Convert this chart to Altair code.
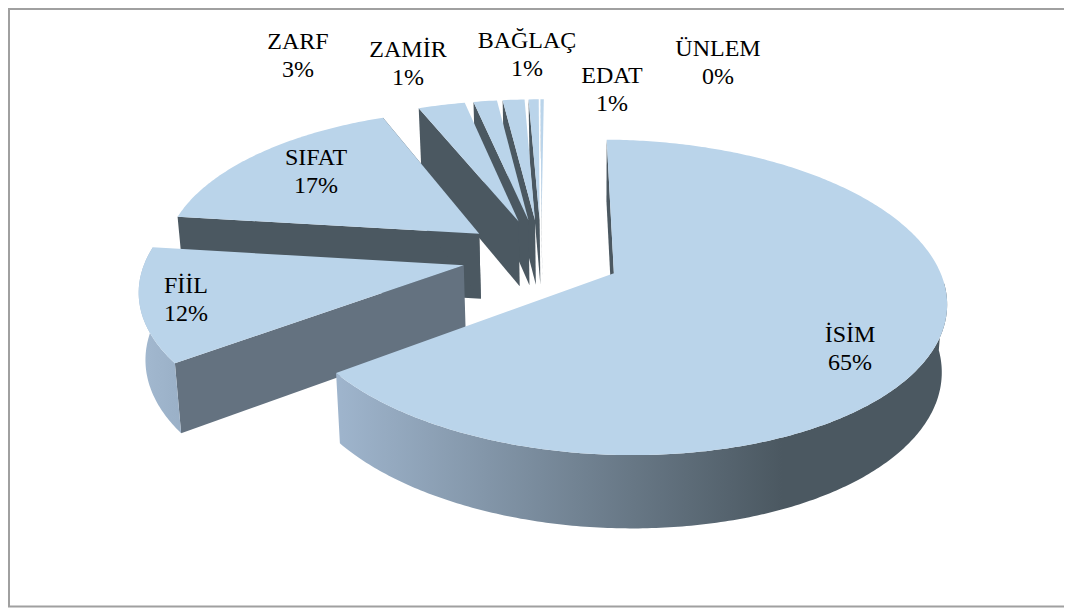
import altair as alt
import numpy as np
import pandas as pd

categories = ["İSİM", "FİİL", "SIFAT", "ZARF", "ZAMİR", "BAĞLAÇ", "EDAT", "ÜNLEM"]
shares = [64.5, 12.0, 17.0, 2.8, 1.4, 1.3, 0.6, 0.2]
pct_labels = ["65%", "12%", "17%", "3%", "1%", "1%", "1%", "0%"]

label_x = [850, 186, 316, 298, 408, 527, 612, 718]
label_y = [335, 286, 158, 42, 50, 41, 76, 49]

W, H = 1056, 600
EXPLODE = 0.25
VIEW = [321.0, -85.16, 613.9, 0.92808, 112.43, 273.32, -0.0073629, -0.15224]
VX, ALPHA = 590, 0.015

cum = np.concatenate([[0], np.cumsum(shares)]) / sum(shares) * 360
bis = (cum[:-1] + cum[1:]) / 2


def pol(t):
    r = np.radians(t)
    return np.sin(r), -np.cos(r)


dirs = [pol(b) for b in bis]
C = (-EXPLODE * dirs[0][0], -EXPLODE * dirs[0][1])


def apex(i):
    return C[0] + EXPLODE * dirs[i][0], C[1] + EXPLODE * dirs[i][1]


def plane(i, t):
    a = apex(i)
    p = pol(t)
    return a[0] + p[0], a[1] + p[1]


def proj(p):
    X, Y = p
    h = VIEW
    w = h[6] * X + h[7] * Y + 1
    return (h[0] * X + h[1] * Y + h[2]) / w, (h[3] * X + h[4] * Y + h[5]) / w


def bottom(p):
    x, y = proj(p)
    return x + (VX - x) * ALPHA, y + 65 + 0.037 * (y - 230)


x_scale = alt.Scale(domain=[8, 8 + W], range=[0, W], nice=False, zero=False)
y_scale = alt.Scale(domain=[8, 8 + H], range=[0, H], nice=False, zero=False)
X_ = alt.X("x:Q", scale=x_scale, axis=None)
Y_ = alt.Y("y:Q", scale=y_scale, axis=None)


def poly(pts, fill):
    df = pd.DataFrame(pts, columns=["x", "y"])
    df["o"] = range(len(df))
    return alt.Chart(df).mark_line(fill=fill, stroke="#00000000", strokeWidth=0).encode(
        x=X_, y=Y_, order="o:Q")


def grad(stops):
    return alt.Gradient(gradient="linear", x1=0, x2=1, y1=0, y2=0,
                        stops=[alt.GradientStop(offset=o, color=c) for o, c in stops])


FACE = "#bad4ea"
DARK = "#4b5861"
layers = []

# the frame
frame = pd.DataFrame({"x": [9, 9], "y": [9, 606]})
layers.append(alt.Chart(frame).mark_line(color="#a0a0a0", strokeWidth=2).encode(x=X_, y=Y_))
frame = pd.DataFrame({"x": [8, 8 + W], "y": [9, 9]})
layers.append(alt.Chart(frame).mark_line(color="#a0a0a0", strokeWidth=2).encode(x=X_, y=Y_))
frame = pd.DataFrame({"x": [8, 8 + W], "y": [606.5, 606.5]})
layers.append(alt.Chart(frame).mark_line(color="#a0a0a0", strokeWidth=2).encode(x=X_, y=Y_))

for i in [7, 6, 5, 4, 3, 2, 1, 0]:
    t0, t1 = cum[i], cum[i + 1]
    ts = np.linspace(t0, t1, max(3, int((t1 - t0) * 1.5)))
    arc = [plane(i, t) for t in ts]
    a = apex(i)
    arc_top = [proj(p) for p in arc]
    a_top = proj(a)
    a_bot = bottom(a)
    # the cut wall that faces the viewer
    if i == 1:
        layers.append(poly([a_top, arc_top[0], bottom(arc[0]), a_bot], "#647280"))
    else:
        layers.append(poly([a_top, arc_top[0], bottom(arc[0]), a_bot], DARK))
    if i == 2:
        layers.append(poly([a_top, arc_top[-1], bottom(arc[-1]), a_bot], DARK))
    # the rim
    if i == 0:
        vis = [p for t, p in zip(ts, arc) if t >= 92]
        rim = grad([(0, "#9fb5cd"), (0.73, "#4b5861"), (1, "#4b5861")])
        layers.append(poly([proj(p) for p in vis] + [bottom(p) for p in vis[::-1]], rim))
    elif i == 1:
        rim = grad([(0, "#a3b9d0"), (1, "#9ab0c7")])
        layers.append(poly(arc_top + [bottom(p) for p in arc[::-1]], rim))
    layers.append(poly([a_top] + arc_top, FACE))

df_lab = pd.DataFrame({"c": categories, "p": pct_labels, "x": label_x, "y": label_y})
df_lab["y2"] = df_lab["y"] + 28
font = dict(font="Liberation Serif", fontSize=24, color="#000000", align="center", baseline="middle")
lab1 = alt.Chart(df_lab).mark_text(**font).encode(x=X_, y=Y_, text="c:N")
lab2 = alt.Chart(df_lab).mark_text(**font).encode(x=X_, y=alt.Y("y2:Q", scale=y_scale, axis=None), text="p:N")

chart = alt.layer(*layers, lab1, lab2).properties(
    width=W, height=H,
    padding={"left": 0, "top": 0, "right": 0, "bottom": 0},
    autosize=alt.AutoSizeParams(type="none", contains="padding"),
).configure_view(stroke=None)
chart.save("out.html", embed_options={"renderer": "svg", "actions": False})
